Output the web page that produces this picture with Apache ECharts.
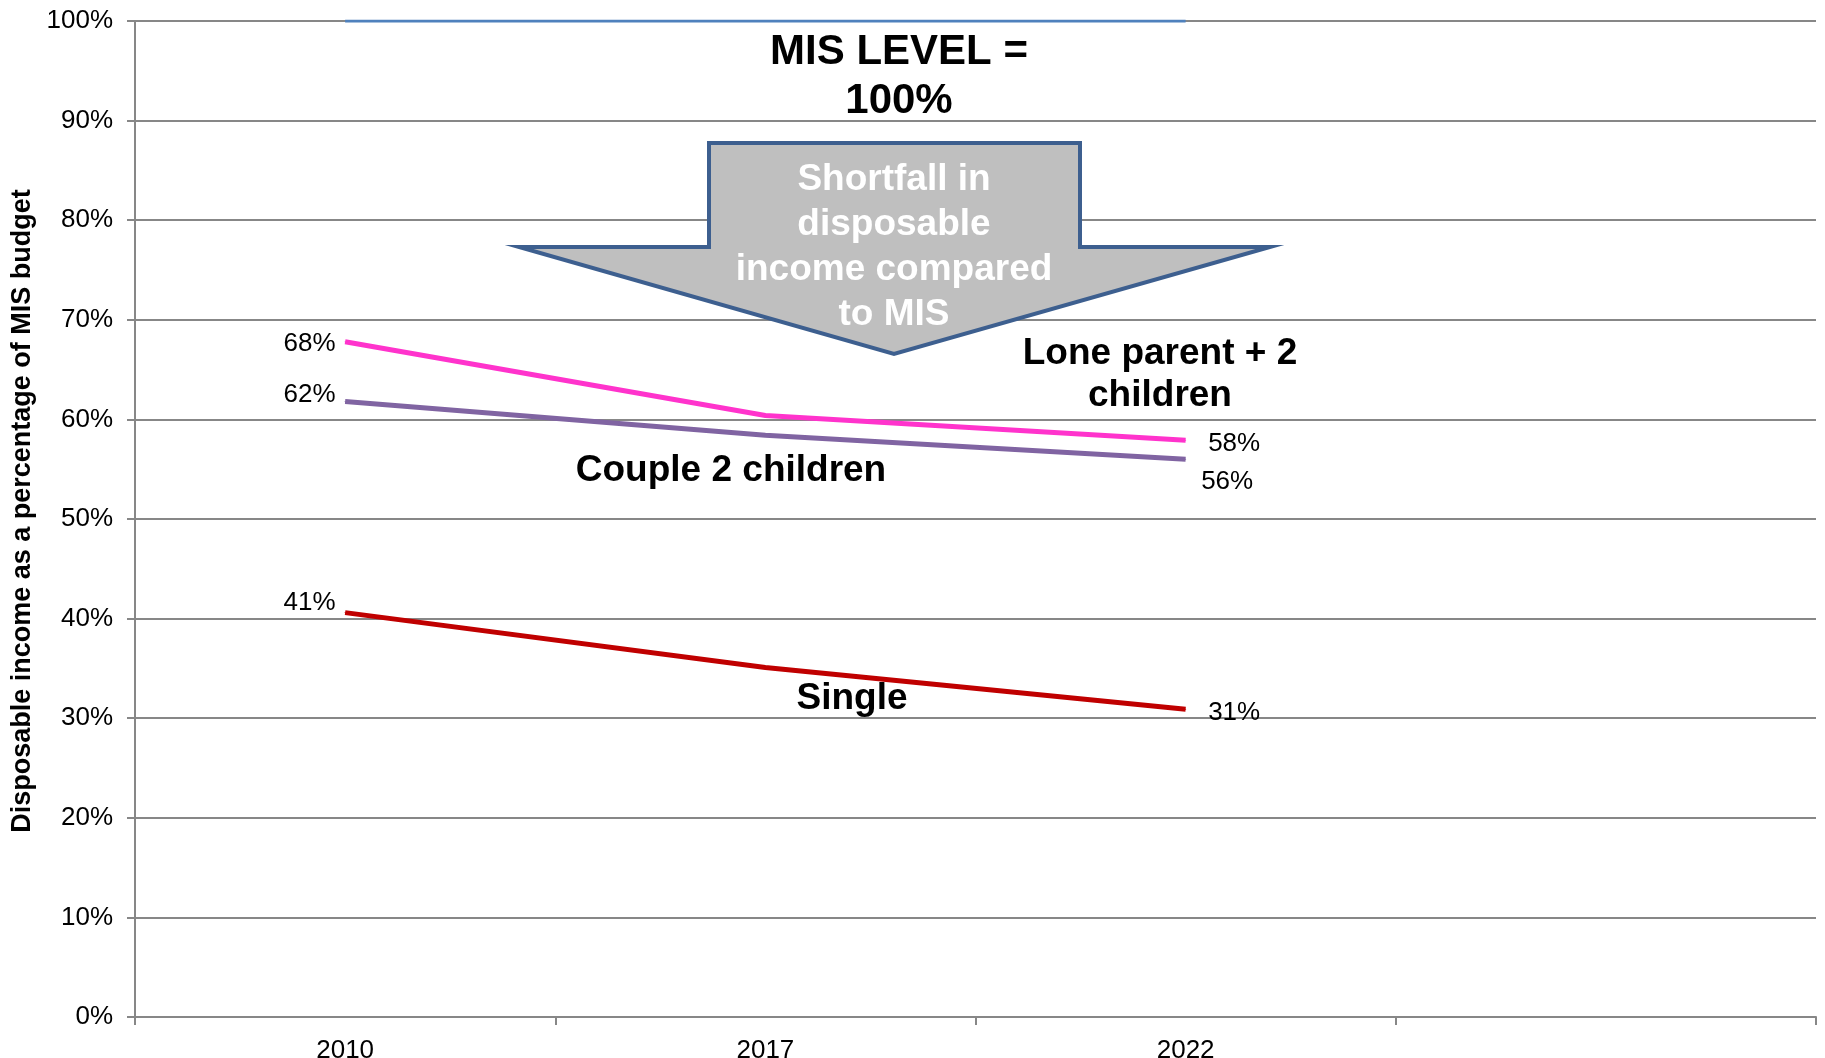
<!DOCTYPE html>
<html>
<head>
<meta charset="utf-8">
<title>Disposable income vs MIS</title>
<script src="https://cdn.jsdelivr.net/npm/echarts@6.0.0/dist/echarts.min.js"></script>
<style>
  html, body { margin: 0; padding: 0; background: #fff; }
  #chart { width: 1825px; height: 1058px; }
</style>
</head>
<body>
<div id="chart"></div>
<script>
// data (percent of MIS budget)
const years = ['2010', '2017', '2022', '']
const misLevel = [100, 100, 100]
const loneParent = [67.8, 60.4, 57.9]
const couple = [61.8, 58.4, 56.0]
const single = [40.6, 35.1, 30.9]
const yTicks = { min: 0, max: 100, interval: 10 }

const FONT = '"Liberation Sans", Arial, sans-serif'
const GRID_COLOR = '#878787'

// label the first point on the left and the last on the right
function withEndLabels(values, leftOffset, rightOffset) {
  return values.map((v, i) => {
    if (i === 0) {
      return { value: v, label: { show: true, position: 'left', offset: leftOffset } }
    }
    if (i === values.length - 1) {
      return { value: v, label: { show: true, position: 'right', offset: rightOffset } }
    }
    return v
  })
}

function lineSeries(name, color, data) {
  return {
    name: name,
    type: 'line',
    data: data,
    // tiny symbol so the point labels get drawn
    symbol: 'circle',
    symbolSize: 1,
    lineStyle: { color: color, width: 5 },
    itemStyle: { color: color },
    label: {
      show: false,
      formatter: p => Math.round(p.value) + '%',
      color: '#000',
      fontSize: 26,
      fontFamily: FONT,
    },
    emphasis: { disabled: true },
    z: 3,
  }
}

const myChart = echarts.init(document.getElementById('chart'))

myChart.setOption({
  animation: false,
  backgroundColor: '#fff',
  // keep the plot box fixed, labels may sit near the page edge
  grid: { left: 135, right: 9, top: 21, bottom: 41, outerBoundsMode: 'none', containLabel: false },
  xAxis: {
    type: 'category',
    data: years,
    boundaryGap: true,
    axisLine: { lineStyle: { color: GRID_COLOR, width: 2 } },
    axisTick: { show: true, length: 8, lineStyle: { color: GRID_COLOR, width: 2 } },
    axisLabel: { color: '#000', fontSize: 26, fontFamily: FONT, margin: 21 },
    splitLine: { show: false },
  },
  yAxis: {
    type: 'value',
    min: yTicks.min,
    max: yTicks.max,
    interval: yTicks.interval,
    name: 'Disposable income as a percentage of MIS budget',
    nameLocation: 'middle',
    nameGap: 94,
    nameTextStyle: {
      color: '#000', fontSize: 27, fontWeight: 'bold', fontFamily: FONT,
      padding: [0, 0, 0, 16],
    },
    axisLine: { show: true, lineStyle: { color: GRID_COLOR, width: 2 } },
    axisTick: { show: true, length: 8, lineStyle: { color: GRID_COLOR, width: 2 } },
    axisLabel: { color: '#000', fontSize: 26, fontFamily: FONT, margin: 22, formatter: '{value}%' },
    splitLine: { lineStyle: { color: GRID_COLOR, width: 2 } },
  },
  series: [
    {
      name: 'MIS level',
      type: 'line',
      data: misLevel,
      symbol: 'none',
      lineStyle: { color: '#4f81bd', width: 3 },
      emphasis: { disabled: true },
      z: 3,
    },
    lineSeries('Lone parent + 2 children', '#ff33cc', withEndLabels(loneParent, [-4, 2], [17, 4])),
    lineSeries('Couple 2 children', '#8064a2', withEndLabels(couple, [-4, -7], [10, 23])),
    lineSeries('Single', '#c00000', withEndLabels(single, [-4, -10], [17, 4])),
  ],
  graphic: [
    // block arrow pointing down from the MIS level
    {
      type: 'polygon',
      z: 10,
      shape: {
        points: [[709, 143], [1080, 143], [1080, 247], [1270, 247], [894, 354], [519, 247], [709, 247]],
      },
      style: { fill: '#bfbfbf', stroke: '#3d5f8f', lineWidth: 4, lineJoin: 'miter' },
    },
    {
      type: 'text',
      z: 11,
      style: {
        text: 'Shortfall in\ndisposable\nincome compared\nto MIS',
        x: 894, y: 247,
        align: 'center', verticalAlign: 'middle',
        lineHeight: 45,
        fill: '#fff',
        font: 'bold 37px ' + FONT,
      },
    },
    {
      type: 'text',
      z: 11,
      style: {
        text: 'MIS LEVEL =\n100%',
        x: 899, y: 77,
        align: 'center', verticalAlign: 'middle',
        lineHeight: 49,
        fill: '#000',
        font: 'bold 42px ' + FONT,
      },
    },
    {
      type: 'text',
      z: 11,
      style: {
        text: 'Lone parent + 2\nchildren',
        x: 1160, y: 375,
        align: 'center', verticalAlign: 'middle',
        lineHeight: 42,
        fill: '#000',
        font: 'bold 37px ' + FONT,
      },
    },
    {
      type: 'text',
      z: 11,
      style: {
        text: 'Couple 2 children',
        x: 731, y: 471,
        align: 'center', verticalAlign: 'middle',
        fill: '#000',
        font: 'bold 37px ' + FONT,
      },
    },
    {
      type: 'text',
      z: 11,
      style: {
        text: 'Single',
        x: 852, y: 699,
        align: 'center', verticalAlign: 'middle',
        fill: '#000',
        font: 'bold 37px ' + FONT,
      },
    },
  ],
})
</script>
</body>
</html>
